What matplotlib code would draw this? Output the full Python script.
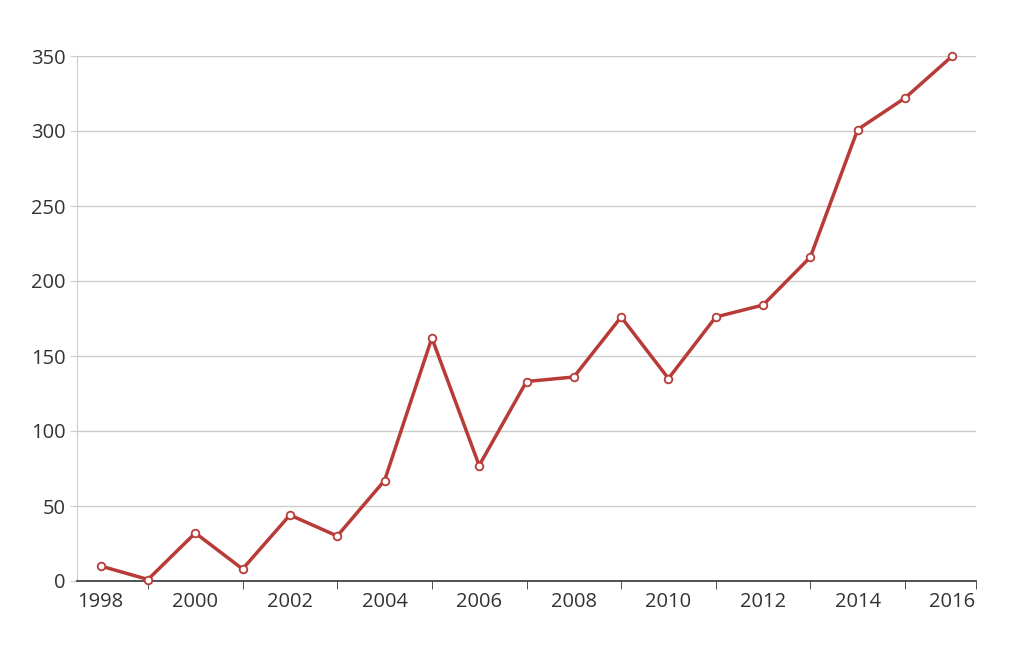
import matplotlib.pyplot as plt

years = list(range(1998, 2017))
values = [10, 1, 32, 8, 44, 30, 67, 162, 77, 133, 136, 176, 135, 176, 184, 216, 301, 322, 350]
ytick_vals = [0, 50, 100, 150, 200, 250, 300, 350]

plt.rcParams['font.family'] = ['Open Sans', 'DejaVu Sans']

fig = plt.figure(figsize=(10.13, 6.54), dpi=100)
ax = fig.add_axes([77 / 1013, 1 - 581 / 654, (976 - 77) / 1013, (581 - 56) / 654])

ax.plot(years, values, color='#b83b37', lw=2.5, marker='o', ms=5.5,
        mfc='white', mec='#b83b37', mew=1.3, zorder=3, clip_on=False)

ax.set_xlim(1997.5, 2016.5)
ax.set_ylim(0, 350)
ax.set_yticks(ytick_vals)
ax.grid(axis='y', color='#cccccc', lw=1)
ax.set_axisbelow(True)

ax.set_xticks(years[::2])
ax.set_xticks([y for y in years[1::2]] + [2016.5], minor=True)
ax.tick_params(axis='x', which='major', length=0, labelsize=14.5, colors='#333333', pad=8)
ax.tick_params(axis='x', which='minor', length=6, color='#333333')
ax.tick_params(axis='y', length=5, color='#cccccc', labelsize=14.5, labelcolor='#333333', pad=3)

for s in ['top', 'right']:
    ax.spines[s].set_visible(False)
ax.spines['left'].set_color('#cccccc')
ax.spines['bottom'].set_color('#333333')
ax.spines['bottom'].set_linewidth(1.2)

fig.savefig('out.png', dpi=100)
